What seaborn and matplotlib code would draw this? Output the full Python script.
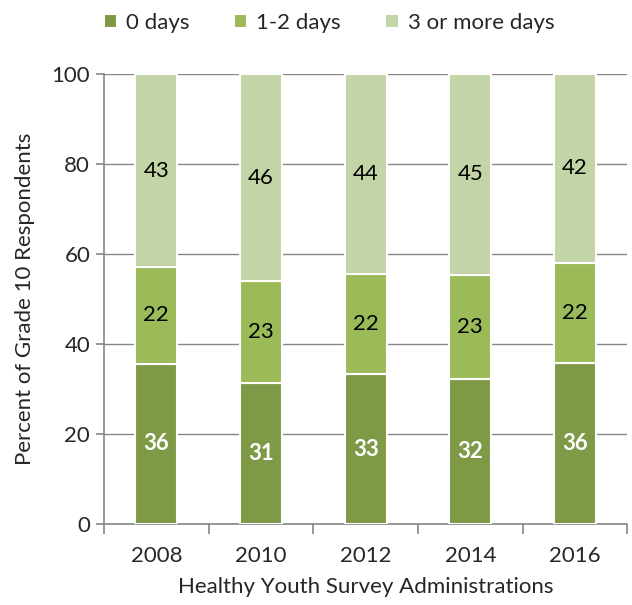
import matplotlib
matplotlib.use("Agg")
import matplotlib.pyplot as plt
import seaborn as sns
import numpy as np
from matplotlib.ticker import FixedLocator

years = ["2008", "2010", "2012", "2014", "2016"]
zero_days = [35.6, 31.3, 33.3, 32.2, 35.8]
one_two_days = [21.5, 22.6, 22.3, 23.2, 22.3]
three_plus_days = [42.9, 46.1, 44.4, 44.6, 41.9]
series_names = ["0 days", "1-2 days", "3 or more days"]
colors = ["#7E9A47", "#9BBB59", "#C3D5A6"]
label_colors = ["white", "black", "black"]
label_weights = ["bold", "normal", "normal"]

sns.set_style("white")
plt.rcParams['font.family'] = ['Lato', 'DejaVu Sans']
FS = 16

fig = plt.figure(figsize=(6.32, 6.05), dpi=100)
ax = fig.add_axes([0.1646, 0.134, 0.828, 0.7437])

series = [zero_days, one_two_days, three_plus_days]
bottom = np.zeros(len(years))
for vals, name, col in zip(series, series_names, colors):
    sns.barplot(x=years, y=vals, bottom=bottom, color=col, width=0.4, saturation=1,
                edgecolor="white", linewidth=1.5, label=name, ax=ax, zorder=3)
    bottom = bottom + np.array(vals)

for cont, lc, lw in zip(ax.containers, label_colors, label_weights):
    ax.bar_label(cont, labels=[f"{v:.0f}" for v in cont.datavalues],
                 label_type="center", color=lc, fontweight=lw, fontsize=FS)

ax.set_ylim(0, 100)
ax.set_xlim(-0.5, 4.5)
ax.set_yticks(range(0, 101, 20))
ax.yaxis.grid(True, color="#868686", linewidth=1)
ax.set_axisbelow(True)
for s in ["top", "right"]:
    ax.spines[s].set_visible(False)
for s in ["left", "bottom"]:
    ax.spines[s].set_color("#868686")
    ax.spines[s].set_linewidth(1.2)
ax.tick_params(axis="y", left=True, length=6, color="#868686", width=1.2, labelsize=FS, pad=4)
ax.tick_params(axis="x", which="major", length=0, labelsize=FS, pad=16)
ax.xaxis.set_minor_locator(FixedLocator(np.arange(-0.5, 5, 1)))
ax.tick_params(axis="x", which="minor", bottom=True, length=7, color="#868686", width=1.2)
ax.set_xlabel("Healthy Youth Survey Administrations", fontsize=FS, labelpad=8)
ax.set_ylabel("Percent of Grade 10 Respondents", fontsize=FS, labelpad=12)

handles, labels = ax.get_legend_handles_labels()
ax.legend(handles, labels, loc="upper center", bbox_to_anchor=(0.43, 1.18), ncol=3,
          frameon=False, fontsize=FS, handlelength=0.6, handleheight=0.6,
          handletextpad=0.4, columnspacing=2.0)

fig.savefig("out.png", dpi=100)
